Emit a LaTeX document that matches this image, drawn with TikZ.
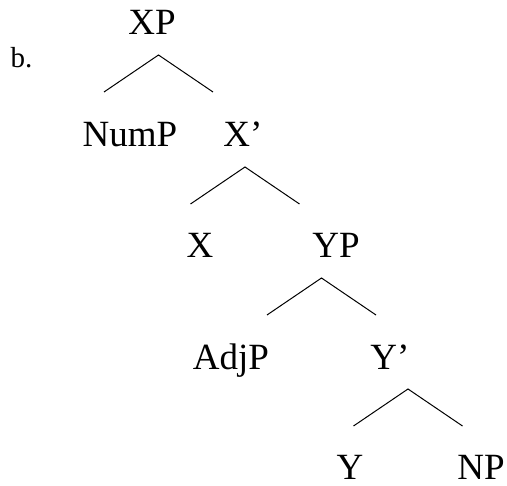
\documentclass[tikz,border=0pt]{standalone}
\usepackage{fontspec}
\setmainfont{Liberation Serif}
\begin{document}
\begin{tikzpicture}[x=1pt,y=-1pt,
    lbl/.style={anchor=base,inner sep=0pt,font=\fontsize{37}{40}\selectfont},
    branch/.style={draw=black,line width=1pt}]
  \useasboundingbox (0,0) rectangle (507,486);
  \node[anchor=base,inner sep=0pt,font=\fontsize{29}{32}\selectfont] (ex) at (21.5,68) {b.};
  \node[lbl] (xp)   at (152,35)  {XP};
  \node[lbl] (nump) at (130,147) {NumP};
  \node[lbl] (xbar) at (243,147) {X’};
  \node[lbl] (x)    at (200,258) {X};
  \node[lbl] (yp)   at (336,258) {YP};
  \node[lbl] (adjp) at (231,370) {AdjP};
  \node[lbl] (ybar) at (390,370) {Y’};
  \node[lbl] (y)    at (350,480) {Y};
  \node[lbl] (np)   at (481,480) {NP};
  % branches
  \foreach \n/\x/\y in {1/158.5/55,2/245/167,3/321.5/278,4/408/389}{
    \coordinate (top\n) at (\x,\y);
    \coordinate (left\n) at (\x-54.5,\y+37);
    \coordinate (right\n) at (\x+54.5,\y+37);
    \draw[branch] (left\n) -- (top\n) -- (right\n);
  }
\end{tikzpicture}
\end{document}
